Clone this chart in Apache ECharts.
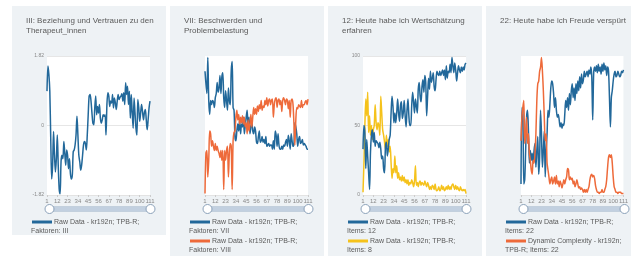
<!DOCTYPE html>
<html>
<head>
<meta charset="utf-8">
<script src="https://cdn.jsdelivr.net/npm/echarts@6/dist/echarts.min.js"></script>
<style>
html,body{margin:0;padding:0;background:#fff;width:635px;height:256px;overflow:hidden;}
.panel{position:absolute;background:#eef2f5;}
</style>
</head>
<body>
<div id="p1" class="panel" style="left:12px;top:6px;width:154px;height:229px"></div>
<div id="p2" class="panel" style="left:170px;top:6px;width:154px;height:250px"></div>
<div id="p3" class="panel" style="left:328px;top:6px;width:154px;height:250px"></div>
<div id="p4" class="panel" style="left:486px;top:6px;width:145px;height:250px"></div>
<script>
// x axis: measurement points 1..111
var days = [];
for (var i = 1; i <= 111; i++) days.push(String(i));

var factor3 = [0.90,1.56,1.34,0.90,-0.34,-1.40,-1.04,-0.16,-0.78,-1.22,-0.87,-0.25,-1.04,-1.66,-1.79,-0.95,-0.78,-0.87,-0.42,-0.73,
	-1.04,-0.64,-0.78,-1.13,-0.87,-1.26,-1.40,-1.31,-0.69,-0.64,-0.51,-0.25,0.24,-0.25,-0.78,-0.95,-1.17,-1.04,-0.78,-0.51,
	-0.42,-0.47,-0.64,-0.25,0.28,0.77,0.81,0.64,0.33,0.06,0.02,0.46,0.77,0.28,0.50,0.33,0.55,0.19,0.06,0.15,
	0.28,0.24,0.28,-0.25,0.55,0.86,0.77,0.50,0.64,0.59,0.81,0.46,0.72,0.59,0.42,0.64,0.81,0.68,0.74,0.77,
	0.83,0.64,0.86,0.55,1.12,0.81,1.03,0.55,0.90,0.19,0.81,0.33,-0.07,0.72,0.33,-0.07,-0.25,0.68,0.46,0.11,
	0.33,0.55,0.37,0.15,0.33,0.42,0.15,-0.11,0.15,0.46,0.64];

var factor7 = [89,80,73,99,68,58,68,65,68,67,63,70,73,81,74,77,86,73,85,88,
	70,63,75,68,61,77,68,65,89,96,63,61,42,39,46,51,46,54,44,51,
	49,56,44,50,56,61,49,56,44,49,52,46,44,49,46,38,37,42,46,38,
	39,42,38,40,37,42,35,36,37,35,36,36,33,39,33,46,43,35,44,36,
	33,33,35,33,36,35,38,40,35,43,39,33,44,39,35,37,52,49,44,35,
	40,42,37,38,40,36,37,36,35,33,33];

var factor8 = [1,30,32,13,25,46,44,35,39,35,32,37,32,35,32,30,27,32,25,32,
	4,32,25,32,35,13,30,37,35,4,39,45,46,56,61,54,58,51,56,52,
	57,51,56,49,52,44,54,46,51,58,49,56,63,58,62,58,64,60,65,62,
	68,61,64,63,68,65,70,64,68,69,65,68,69,56,65,69,70,63,68,69,
	65,68,60,68,70,68,65,69,68,62,68,56,68,69,65,51,36,54,63,62,
	65,64,63,68,63,65,65,67,68,65,69];

var item12 = [33,50,45,19,40,28,16,4,31,43,47,38,45,35,39,38,37,34,38,33,
	26,28,19,16,35,38,28,33,40,43,59,71,64,52,59,52,59,69,59,53,
	64,67,55,59,68,57,49,61,69,57,50,50,64,74,67,59,69,64,59,76,
	81,71,67,78,83,74,86,81,57,71,84,76,89,81,84,88,78,75,83,89,
	87,86,89,86,88,90,86,90,83,93,84,89,88,94,88,99,93,88,95,90,
	82,88,93,90,88,92,89,92,90,94,95];

var item8 = [2,23,50,69,57,74,45,57,43,50,40,47,50,65,52,47,52,50,43,71,
	59,47,43,38,33,43,35,40,31,35,23,12,19,16,28,16,21,12,16,11,
	13,10,14,10,13,9,11,8,11,7,9,8,11,9,6,10,21,7,9,6,
	9,10,7,9,8,7,10,8,6,9,7,4,6,4,7,6,4,8,4,3,
	4,6,3,4,7,4,6,3,4,6,4,7,4,6,4,7,8,6,4,7,
	4,6,4,3,6,4,3,4,3,4,1];

var item22 = [8,63,61,8,11,32,56,61,46,23,32,25,30,23,32,37,20,32,42,15,
	27,61,44,20,32,46,13,32,44,61,56,65,77,82,80,73,63,70,61,56,
	58,54,49,52,48,51,50,58,68,63,70,61,73,65,75,80,70,77,68,80,
	73,82,75,85,77,87,80,83,89,85,87,89,85,90,87,92,85,54,87,92,
	89,93,88,94,89,92,87,94,89,95,90,93,86,92,89,70,49,70,75,82,
	87,89,85,86,89,87,85,86,89,88,90];

var complexity22 = [39,56,63,68,37,44,56,37,44,30,25,18,15,25,23,30,44,68,80,82,
	89,92,99,89,75,56,39,44,23,18,13,8,11,13,8,10,13,8,14,8,
	10,6,10,8,5,8,11,8,11,13,19,18,11,13,11,12,8,10,6,8,
	11,8,5,6,4,5,4,2,4,2,4,2,4,6,11,14,15,13,14,12,
	7,4,2,2,1,2,2,4,2,2,4,6,11,20,27,29,27,29,23,13,
	6,4,2,2,1,2,2,2,1,1,1];

var blue = '#22689a', orange = '#ee6a3a', yellow = '#f5c21b';
var fontFam = '"Liberation Sans", Arial, sans-serif';

function makePanel(id, title, yCfg, series, legend) {
	var chart = echarts.init(document.getElementById(id), null, {renderer: 'canvas'});
	var graphics = [];
	var rowY = [216, 225, 235, 244];
	for (var i = 0; i < legend.length; i++) {
		var y1 = rowY[i * 2], y2 = rowY[i * 2 + 1];
		graphics.push({type: 'line', shape: {x1: 20, y1: y1, x2: 40, y2: y1},
			style: {stroke: legend[i].color, lineWidth: 3}, silent: true});
		graphics.push({type: 'text', x: 42, y: y1,
			style: {text: legend[i].line1, fill: '#5a5a5a', font: '7px ' + fontFam, verticalAlign: 'middle'}});
		graphics.push({type: 'text', x: 19, y: y2,
			style: {text: legend[i].line2, fill: '#5a5a5a', font: '7px ' + fontFam, verticalAlign: 'middle'}});
	}
	var opt = {
		animation: false,
		textStyle: {fontFamily: fontFam},
		title: {text: title, left: 9, top: 5,
			textStyle: {fontSize: 8, fontWeight: 'normal', color: '#5a5a5a', lineHeight: 10}},
		grid: {left: 35, top: 50, width: 103, height: 139, show: true,
			backgroundColor: '#fff', borderWidth: 0},
		xAxis: {type: 'category', data: days, boundaryGap: false,
			axisLine: {onZero: false, lineStyle: {color: '#e3e3e3'}},
			axisTick: {show: true, interval: 10, length: 2, lineStyle: {color: '#ccc'}},
			axisLabel: {interval: 10, fontSize: 6, color: '#888', margin: 3}},
		yAxis: {type: 'value', min: yCfg.min, max: yCfg.max, interval: yCfg.interval,
			axisLine: {show: false}, axisTick: {show: false},
			axisLabel: {show: yCfg.labels, fontSize: 5, color: '#888', margin: 3},
			splitLine: {show: yCfg.labels, lineStyle: {color: '#e6e6e6', width: 1}}},
		dataZoom: [{type: 'slider', xAxisIndex: 0, left: 35, width: 103, top: 200, height: 6,
			showDetail: false, showDataShadow: false, brushSelect: false, moveHandleSize: 0,
			backgroundColor: '#d5dfe9', borderColor: '#c3d0dd', fillerColor: 'rgba(170,190,212,0.45)',
			handleIcon: 'circle', handleSize: 9,
			handleStyle: {color: '#fff', borderColor: '#8aa0b8', borderWidth: 1}}],
		series: series.map(function (s) {
			return {type: 'line', data: s.data, showSymbol: false, smooth: 0.3,
				lineStyle: {color: s.color, width: 1.5}, itemStyle: {color: s.color}, z: s.z || 2};
		}),
		graphic: graphics
	};
	chart.setOption(opt);
	return chart;
}

makePanel('p1', 'III: Beziehung und Vertrauen zu den\nTherapeut_innen',
	{min: -1.82, max: 1.82, interval: 1.82, labels: true},
	[{data: factor3, color: blue}],
	[{color: blue, line1: 'Raw Data - kr192n; TPB-R;', line2: 'Faktoren: III'}]);

makePanel('p2', 'VII: Beschwerden und\nProblembelastung',
	{min: 0, max: 100, interval: 50, labels: false},
	[{data: factor7, color: blue}, {data: factor8, color: orange}],
	[{color: blue, line1: 'Raw Data - kr192n; TPB-R;', line2: 'Faktoren: VII'},
	 {color: orange, line1: 'Raw Data - kr192n; TPB-R;', line2: 'Faktoren: VIII'}]);

makePanel('p3', '12: Heute habe ich Wertschätzung\nerfahren',
	{min: 0, max: 100, interval: 50, labels: true},
	[{data: item12, color: blue, z: 3}, {data: item8, color: yellow}],
	[{color: blue, line1: 'Raw Data - kr192n; TPB-R;', line2: 'Items: 12'},
	 {color: yellow, line1: 'Raw Data - kr192n; TPB-R;', line2: 'Items: 8'}]);

makePanel('p4', '22: Heute habe ich Freude verspürt',
	{min: 0, max: 100, interval: 50, labels: false},
	[{data: item22, color: blue}, {data: complexity22, color: orange}],
	[{color: blue, line1: 'Raw Data - kr192n; TPB-R;', line2: 'Items: 22'},
	 {color: orange, line1: 'Dynamic Complexity - kr192n;', line2: 'TPB-R; Items: 22'}]);
</script>
</body>
</html>
